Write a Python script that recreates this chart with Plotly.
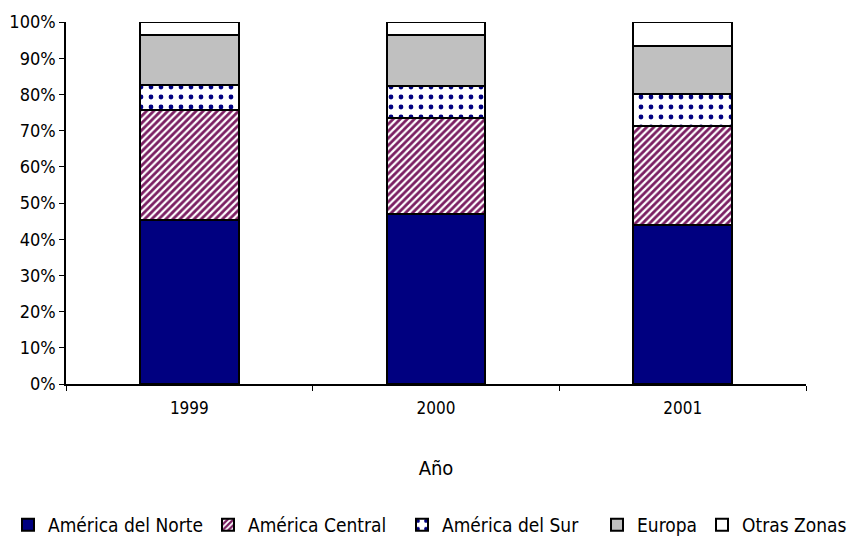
import plotly.graph_objects as go

years = ["1999", "2000", "2001"]
norte = [45.4, 46.9, 43.8]
central = [30.4, 26.7, 27.5]
sur = [6.9, 8.8, 8.8]
europa = [13.6, 13.9, 13.4]
otras = [3.7, 3.7, 6.5]
y_ticks = [0, 10, 20, 30, 40, 50, 60, 70, 80, 90, 100]
y_labels = [f"{v}%" for v in y_ticks]

FONT = "DejaVu Sans Condensed"
line = dict(color="black", width=2)

fig = go.Figure()
fig.add_bar(name="América del Norte", x=years, y=norte, legend="legend",
            marker=dict(color="#000080", line=line))
fig.add_bar(name="América Central", x=years, y=central, legend="legend2",
            marker=dict(color="white", line=line,
                        pattern=dict(shape="/", fgcolor="#7A1F62", bgcolor="white",
                                     size=5, solidity=0.55, fillmode="replace")))
fig.add_bar(name="América del Sur", x=years, y=sur, legend="legend3",
            marker=dict(color="white", line=line,
                        pattern=dict(shape=".", fgcolor="#000080", bgcolor="white",
                                     size=10, solidity=0.18, fillmode="replace")))
fig.add_bar(name="Europa", x=years, y=europa, legend="legend4",
            marker=dict(color="#C0C0C0", line=line))
fig.add_bar(name="Otras Zonas", x=years, y=otras, legend="legend5",
            marker=dict(color="white", line=line))

W, H = 855, 547
def leg(px):
    return dict(orientation="h", x=px / W, xanchor="left", xref="container",
                y=30 / H, yanchor="middle", yref="container",
                font=dict(size=19), itemwidth=30, bgcolor="rgba(0,0,0,0)")

leg_x = [0, 200, 394, 589, 694]

fig.update_layout(
    barmode="stack",
    bargap=0.6,
    width=W, height=H,
    margin=dict(l=58, r=57, t=14, b=171),
    plot_bgcolor="white", paper_bgcolor="white",
    font=dict(family=FONT, size=18, color="black"),
    showlegend=True,
    legend=leg(leg_x[0]), legend2=leg(leg_x[1]), legend3=leg(leg_x[2]),
    legend4=leg(leg_x[3]), legend5=leg(leg_x[4]),
    xaxis=dict(showline=True, linecolor="black", linewidth=1.5, automargin=False,
               ticks="outside", ticklen=5, tickcolor="black", tickson="boundaries",
               tickfont=dict(size=17), ticklabelstandoff=8,
               title=dict(text="Año", standoff=44, font=dict(size=20))),
    yaxis=dict(range=[0, 100], tickvals=y_ticks, ticktext=y_labels, automargin=False,
               showline=True, linecolor="black", linewidth=1.5,
               ticks="outside", ticklen=5, tickcolor="black", tickfont=dict(size=18),
               showgrid=False, zeroline=False),
)

fig.write_html("out.html")
